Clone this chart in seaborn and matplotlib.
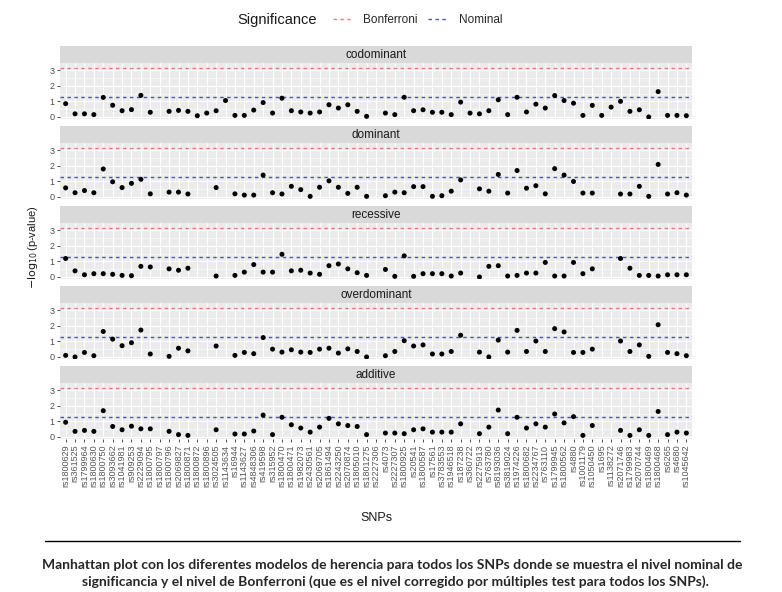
import numpy as np
import pandas as pd
import matplotlib
matplotlib.use("Agg")
import matplotlib.pyplot as plt
from matplotlib.lines import Line2D
import seaborn as sns

nan = np.nan

# SNP identifiers (x axis, in plotted order)
snps = ["rs1800629", "rs361525", "rs1799964", "rs1800630", "rs1800750", "rs3093662",
        "rs1041981", "rs909253", "rs2229094", "rs1800795", "rs1800797", "rs1800796",
        "rs2069827", "rs1800871", "rs1800872", "rs1800896", "rs3024505", "rs1143634",
        "rs16944", "rs1143627", "rs4848306", "rs419598", "rs315952", "rs1800470",
        "rs1800471", "rs1982073", "rs2430561", "rs2069705", "rs1861494", "rs2243250",
        "rs2070874", "rs1805010", "rs1801275", "rs2227306", "rs4073", "rs2227307",
        "rs1800925", "rs20541", "rs1800587", "rs17561", "rs3783553", "rs1946518",
        "rs187238", "rs360722", "rs2275913", "rs763780", "rs8193036", "rs3819024",
        "rs1974226", "rs1800682", "rs2234767", "rs763110", "rs1799945", "rs1800562",
        "rs4880", "rs1001179", "rs1050450", "rs1695", "rs1138272", "rs2071746",
        "rs1799983", "rs2070744", "rs1800469", "rs1800468", "rs6265", "rs4680",
        "rs1045642"]

models = ["codominant", "dominant", "recessive", "overdominant", "additive"]

# -log10(p-value) per model (NaN = not estimated)
codominant = [0.85, 0.20, 0.20, 0.15, 1.25, 0.75, 0.40, 0.47, 1.38, 0.30,
              nan, 0.36, 0.42, 0.36, 0.08, 0.25, 0.40, 1.05, 0.10, 0.10,
              0.44, 0.92, 0.25, 1.20, 0.40, 0.32, 0.25, 0.32, 0.78, 0.57,
              0.78, 0.36, 0.04, nan, 0.25, 0.15, 1.26, 0.40, 0.46, 0.30,
              0.30, 0.15, 0.95, 0.25, 0.20, 0.40, 1.10, 0.15, 1.26, 0.32,
              0.82, 0.57, 1.37, 1.05, 0.88, 0.10, 0.74, 0.10, 0.63, 1.00,
              0.36, 0.46, 0.00, 1.62, 0.10, 0.10, 0.08]
dominant = [0.58, 0.27, 0.41, 0.27, 1.79, 0.97, 0.60, 0.87, 1.13, 0.20,
            nan, 0.31, 0.31, 0.19, nan, nan, 0.60, nan, 0.20, 0.12,
            0.12, 1.40, 0.27, 0.19, 0.68, 0.47, 0.04, 0.62, 1.03, 0.62,
            0.23, 0.62, 0.04, nan, 0.08, 0.31, 0.27, 0.66, 0.66, 0.04,
            0.08, 0.37, 1.09, nan, 0.52, 0.37, 1.44, 0.25, 1.69, 0.56,
            0.72, 0.20, 1.81, 1.40, 0.99, 0.25, 0.25, nan, nan, 0.19,
            0.19, 0.68, 0.04, 2.08, 0.19, 0.27, 0.12]
recessive = [1.18, 0.39, 0.14, 0.21, 0.21, 0.17, 0.10, 0.08, 0.68, 0.64,
             nan, 0.52, 0.43, 0.56, nan, nan, 0.06, nan, 0.10, 0.31,
             0.79, 0.31, 0.31, 1.45, 0.39, 0.43, 0.25, 0.17, 0.72, 0.83,
             0.52, 0.27, 0.10, nan, 0.48, 0.04, 1.35, 0.04, 0.21, 0.21,
             0.21, 0.06, 0.25, nan, 0.00, 0.68, 0.72, 0.06, 0.10, 0.25,
             0.25, 0.93, 0.06, 0.06, 0.93, 0.21, 0.52, nan, nan, 1.18,
             0.56, 0.10, 0.10, 0.06, 0.14, 0.14, 0.14]
overdominant = [0.10, 0.00, 0.29, 0.08, 1.63, 1.14, 0.72, 0.91, 1.72, 0.19,
                nan, 0.04, 0.56, 0.39, nan, nan, 0.70, nan, 0.10, 0.29,
                0.21, 1.24, 0.50, 0.31, 0.46, 0.31, 0.29, 0.50, 0.56, 0.25,
                0.52, 0.35, 0.00, nan, 0.08, 0.35, 1.04, 0.70, 0.77, 0.19,
                0.19, 0.35, 1.39, nan, 0.31, 0.00, 1.08, 0.31, 1.70, 0.35,
                1.02, 0.35, 1.81, 1.60, 0.29, 0.29, 0.50, nan, nan, 1.02,
                0.35, 0.77, 0.04, 2.06, 0.29, 0.21, 0.08]
additive = [0.94, 0.36, 0.42, 0.36, 1.68, 0.67, 0.46, 0.69, 0.52, 0.52,
            nan, 0.36, 0.15, 0.10, nan, nan, 0.46, nan, 0.19, 0.19,
            0.38, 1.40, 0.15, 1.26, 0.78, 0.57, 0.31, 0.63, 1.19, 0.84,
            0.73, 0.67, 0.15, nan, 0.25, 0.25, 0.21, 0.46, 0.52, 0.31,
            0.31, 0.31, 0.84, nan, 0.21, 0.63, 1.72, 0.21, 1.26, 0.57,
            0.84, 0.63, 1.47, 0.90, 1.30, 0.10, 0.73, nan, nan, 0.42,
            0.10, 0.46, 0.10, 1.63, 0.15, 0.31, 0.25]

caption = ["Manhattan plot con los diferentes modelos de herencia para todos los SNPs donde se muestra el nivel nominal de",
           "significancia y el nivel de Bonferroni (que es el nivel corregido por múltiples test para todos los SNPs)."]

nominal = -np.log10(0.05)
bonferroni = -np.log10(0.05 / len(snps))
bonf_color = "#EE5050"
nom_color = "#3535B0"

values = {"codominant": codominant, "dominant": dominant, "recessive": recessive,
          "overdominant": overdominant, "additive": additive}
rows = []
for m in models:
    for i, (snp, v) in enumerate(zip(snps, values[m])):
        rows.append({"model": m, "snp": snp, "pos": i, "logp": v})
df = pd.DataFrame(rows).dropna()

sns.set_theme(style="darkgrid", rc={"axes.facecolor": "#EBEBEB", "grid.color": "white"})
plt.rcParams["font.family"] = ["Liberation Sans", "DejaVu Sans"]

W, H = 782, 592
fig = plt.figure(figsize=(W / 100, H / 100), dpi=100)


def box(left, top, width, height):
    return [left / W, 1 - (top + height) / H, width / W, height / H]


for k, m in enumerate(models):
    top = 63 + 80 * k
    ax = fig.add_axes(box(60, top, 632, 56))
    ax.axhline(bonferroni, color=bonf_color, ls=(0, (2.5, 2.5)), lw=1.0, alpha=0.75, zorder=2)
    ax.axhline(nominal, color=nom_color, ls=(0, (2.5, 2.5)), lw=1.0, alpha=0.85, zorder=2)
    sns.scatterplot(data=df[df["model"] == m], x="pos", y="logp", color="black",
                    s=13, edgecolor="none", legend=False, ax=ax, zorder=3)
    ax.set_xlim(-0.6, len(snps) - 0.4)
    ax.set_ylim(-0.13, 3.45)
    ax.set_yticks([0, 1, 2, 3])
    ax.set_yticks([0.5, 1.5, 2.5], minor=True)
    ax.set_xticks(range(len(snps)))
    ax.grid(which="major", color="white", lw=0.8)
    ax.grid(which="minor", axis="y", color="white", lw=0.4)
    ax.set_xlabel("")
    ax.set_ylabel("")
    for sp in ax.spines.values():
        sp.set_visible(False)
    ax.tick_params(axis="y", which="major", left=True, length=2.5, width=0.6, color="#333333",
                   labelsize=6.5, labelcolor="#4D4D4D", pad=1.5)
    ax.tick_params(axis="y", which="minor", left=False)
    if k < len(models) - 1:
        ax.tick_params(axis="x", length=0, labelbottom=False)
    else:
        ax.set_xticklabels(snps, rotation=90, fontsize=6.5, color="#555555")
        ax.tick_params(axis="x", bottom=True, length=2.5, width=0.6, color="#333333", pad=1.5)

    strip = fig.add_axes(box(60, top - 17, 632, 17))
    strip.set_facecolor("#D9D9D9")
    strip.grid(False)
    strip.set_xticks([])
    strip.set_yticks([])
    for sp in strip.spines.values():
        sp.set_visible(False)
    strip.text(0.5, 0.5, m, ha="center", va="center", fontsize=8.5, color="#1A1A1A",
               transform=strip.transAxes)

fig.text(33 / W, 1 - 247 / H, r"$-\log_{10}$(p-value)", rotation=90, ha="center", va="center",
         fontsize=8, color="#1A1A1A")
fig.text(376 / W, 1 - 518 / H, "SNPs", ha="center", va="center", fontsize=9, color="#1A1A1A")

# legend on top
fig.text(237 / W, 1 - 20 / H, "Significance", ha="left", va="center", fontsize=10.5, color="#1A1A1A")
handles = [Line2D([], [], color=bonf_color, ls=(0, (2.5, 2.5)), lw=1.0, alpha=0.75),
           Line2D([], [], color=nom_color, ls=(0, (2.5, 2.5)), lw=1.0, alpha=0.85)]
fig.legend(handles, ["Bonferroni", "Nominal"], loc="center left", bbox_to_anchor=(322 / W, 1 - 20 / H),
           ncol=2, frameon=False, fontsize=8.5, handlelength=1.6, handletextpad=1.0, columnspacing=0.9)

fig.add_artist(Line2D([45 / W, 740 / W], [1 - 541 / H, 1 - 541 / H], color="black", lw=1.0))
fig.text(392 / W, 1 - 565 / H, caption[0], ha="center", va="center", fontsize=10,
         fontweight="bold", family=["Lato", "DejaVu Sans"])
fig.text(395 / W, 1 - 582 / H, caption[1], ha="center", va="center", fontsize=10,
         fontweight="bold", family=["Lato", "DejaVu Sans"])

fig.savefig("out.png", dpi=100)
